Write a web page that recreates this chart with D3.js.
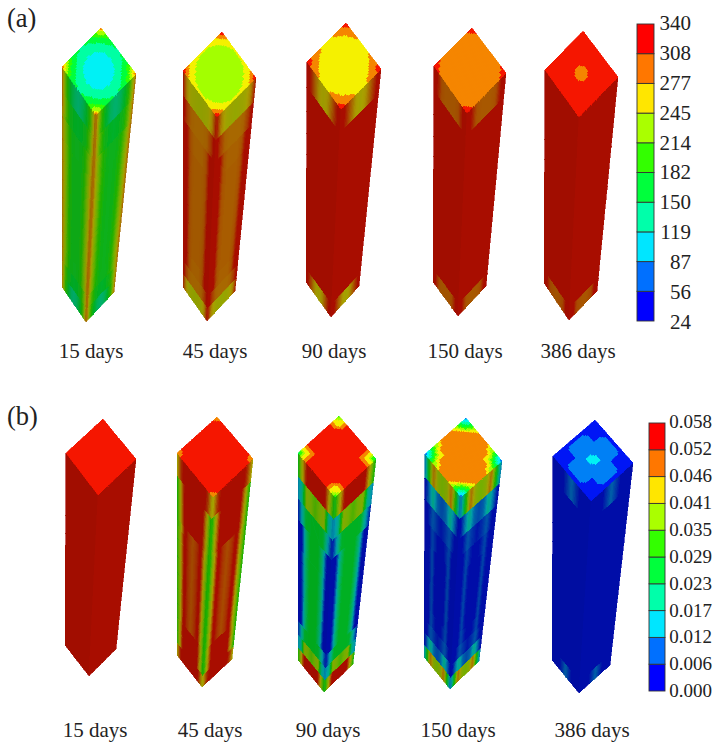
<!DOCTYPE html>
<html>
<head>
<meta charset="utf-8">
<style>
  body { margin: 0; background: #fff; }
  text { font-family: "Liberation Serif", serif; fill: #222; }
</style>
</head>
<body>
<script src="https://cdnjs.cloudflare.com/ajax/libs/d3/7.8.5/d3.min.js"></script>
<script>
var ticksA = [340, 308, 277, 245, 214, 182, 150, 119, 87, 56, 24];
var ticksB = ["0.058", "0.052", "0.046", "0.041", "0.035", "0.029", "0.023", "0.017", "0.012", "0.006", "0.000"];
var dayLabels = ["15 days", "45 days", "90 days", "150 days", "386 days"];
var bandColors = ["#0000ff", "#0070ff", "#00e6ff", "#00ffaa", "#00ff3c", "#33ff00", "#aaff00", "#ffe600", "#ff7700", "#ff0000"];

// top face: one quadrant, corner to centre. side face: rows end to middle, columns edge to face centre
var topA15 = [[305,225,175,155,150],[225,180,150,135,130],[175,150,125,115,110],[155,135,115,100,95],[150,130,110,95,90]];
var sideA15 = [[290,215,170,145,135],[290,222,185,170,165],[290,235,198,178,175],[290,240,200,180,176],[290,240,200,180,176],[290,240,200,180,176]];
var topA45 = [[335,285,258,250,250],[285,255,240,235,235],[258,240,230,225,225],[250,235,225,222,222],[250,235,225,222,222]];
var sideA45 = [[320,272,255,252,250],[335,305,288,285,285],[340,330,295,288,288],[340,330,295,290,290],[340,330,295,290,290],[340,330,295,290,290]];
var topA90 = [[335,305,292,276,258],[305,285,268,255,255],[292,268,255,255,255],[276,255,255,255,255],[258,255,255,255,255]];
var sideA90 = [[338,315,290,265,258],[340,340,340,340,340],[340,340,340,340,340],[340,340,340,340,340],[340,340,340,340,340],[340,340,340,340,340]];
var topA150 = [[330,312,298,292,290],[312,296,292,292,292],[298,292,292,292,292],[292,292,292,292,292],[290,292,292,292,292]];
var sideA150 = [[338,320,295,292,292],[340,340,340,340,340],[340,340,340,340,340],[340,340,340,340,340],[340,340,340,340,340],[340,340,340,340,340]];
var topA386 = [[330,330,330,330,330],[330,330,330,330,330],[330,330,330,330,325],[330,330,330,315,306],[330,330,325,306,290]];
var sideA386 = [[340,340,340,340,340],[340,340,340,340,340],[340,340,340,340,340],[340,340,340,340,340],[340,340,340,340,340],[340,340,340,340,340]];
var endA386 = [338,325,298,294,292];

var topB15 = [[.056,.056,.056,.056,.056],[.056,.056,.056,.056,.056],[.056,.056,.056,.056,.056],[.056,.056,.056,.056,.056],[.056,.056,.056,.056,.056]];
var sideB15 = [[.058,.058,.058,.058,.058],[.058,.058,.058,.058,.058],[.058,.058,.058,.058,.058],[.058,.058,.058,.058,.058],[.058,.058,.058,.058,.058],[.058,.058,.058,.058,.058]];
var topB45 = [[.046,.054,.056,.056,.056],[.054,.056,.056,.056,.056],[.056,.056,.056,.056,.056],[.056,.056,.056,.056,.056],[.056,.056,.056,.056,.056]];
var sideB45 = [[.042,.052,.057,.057,.057],[.030,.044,.057,.057,.057],[.030,.044,.057,.057,.057],[.030,.042,.056,.052,.050],[.030,.042,.056,.052,.050],[.030,.042,.056,.052,.050]];
var topB90 = [[.026,.044,.054,.056,.056],[.044,.044,.056,.056,.056],[.054,.056,.056,.056,.056],[.056,.056,.056,.056,.056],[.056,.056,.056,.056,.056]];
var sideB90 = [[.029,.042,.055,.057,.057],[.012,.018,.040,.038,.035],[.004,.015,.026,.027,.027],[.000,.004,.020,.027,.027],[.000,.004,.020,.027,.027],[.000,.004,.020,.027,.027]];
var topB150 = [[.006,.020,.036,.047,.048],[.020,.030,.047,.050,.050],[.036,.047,.048,.050,.050],[.047,.050,.050,.050,.050],[.048,.050,.050,.050,.050]];
var sideB150 = [[.010,.030,.048,.040,.038],[.001,.010,.018,.010,.008],[.000,.004,.009,.006,.004],[.000,.002,.008,.004,.002],[.000,.002,.008,.002,.001],[.000,.002,.008,.002,.001]];
var topB386 = [[.001,.002,.003,.004,.004],[.002,.004,.005,.008,.007],[.003,.005,.005,.008,.008],[.004,.008,.008,.010,.011],[.004,.007,.008,.011,.016]];
var sideB386 = [[.000,.000,.002,.006,.010],[.000,.000,.000,.000,.000],[.000,.000,.000,.000,.000],[.000,.000,.000,.000,.000],[.000,.000,.000,.000,.000],[.000,.000,.000,.000,.000]];

// screen corners of each column
var shapes = {
  a15: {T:[101,28], L:[62,67], R:[136,74], F:[96,115], BL:[62,287], BF:[86,322], BR:[114,292]},
  a45: {T:[222,32], L:[183,71], R:[256,78], F:[217,117], BL:[183,287], BF:[207,321], BR:[235,291]},
  a90: {T:[346,23], L:[307,62], R:[381,69], F:[341,109], BL:[306,282], BF:[331,317], BR:[359,286]},
  a150: {T:[472,28], L:[434,66], R:[506,73], F:[467,113], BL:[433,282], BF:[458,316], BR:[486,286]},
  a386: {T:[583,31], L:[545,70], R:[618,77], F:[579,117], BL:[544,283], BF:[569,320], BR:[597,291]},
  b15: {T:[103,419], L:[66,453], R:[136,459], F:[98,495], BL:[65,645], BF:[89,676], BR:[116,649]},
  b45: {T:[217,417], L:[177,453], R:[253,459], F:[213,497], BL:[177,655], BF:[202,687], BR:[232,659]},
  b90: {T:[339,416], L:[298,453], R:[376,459], F:[335,497], BL:[298,660], BF:[324,692], BR:[353,664]},
  b150: {T:[466,418], L:[425,454], R:[502,461], F:[461,497], BL:[424,657], BF:[450,689], BR:[479,661]},
  b386: {T:[595,420], L:[553,456], R:[633,463], F:[591,501], BL:[552,660], BF:[579,693], BR:[610,665]}
};

var columnsA = [
  {shape: shapes.a15, top: topA15, side: sideA15},
  {shape: shapes.a45, top: topA45, side: sideA45},
  {shape: shapes.a90, top: topA90, side: sideA90},
  {shape: shapes.a150, top: topA150, side: sideA150},
  {shape: shapes.a386, top: topA386, side: sideA386, end: endA386}
];
var columnsB = [
  {shape: shapes.b15, top: topB15, side: sideB15},
  {shape: shapes.b45, top: topB45, side: sideB45},
  {shape: shapes.b90, top: topB90, side: sideB90},
  {shape: shapes.b150, top: topB150, side: sideB150},
  {shape: shapes.b386, top: topB386, side: sideB386}
];

var svg = d3.select("body").append("svg")
  .attr("width", 715)
  .attr("height", 743);

var blur = svg.append("defs").append("filter")
  .attr("id", "soft")
  .attr("x", "-5%").attr("y", "-5%").attr("width", "110%").attr("height", "110%");
blur.append("feGaussianBlur").attr("stdDeviation", 0.7);

var lerp = function(p, q, t) { return [p[0] + (q[0] - p[0]) * t, p[1] + (q[1] - p[1]) * t]; };
var quad = function(a, b, c, d, u, v) { return lerp(lerp(a, b, u), lerp(d, c, u), v); };
// the camera sits above the column so cells near the top look longer
var depth = function(t) { return 1.44 * t / (1 + 0.44 * t); };

var shade = function(color, k, lift) {
  var c = d3.rgb(color);
  return d3.rgb(c.r * k, Math.min(255, c.g * k + lift), c.b * k).formatHex();
};

function drawColumn(g, col, bandScale, smoothScale) {
  var s = col.shape, polys = [];

  function addFace(a, b, c, d, k, lift) {
    d3.range(12).forEach(function(r) {
      var row = col.side[r < 6 ? r : 11 - r];
      if (r == 11 && col.end) row = col.end;
      var v0 = depth(r / 12), v1 = depth((r + 1) / 12);
      d3.range(32).forEach(function(i) {
        var pos = (i + 0.5) / 4, n = Math.floor(pos), f = pos - n;
        var val = d3.interpolateNumber(row[Math.min(n, 8 - n)], row[Math.min(n + 1, 7 - n)])(f);
        polys.push({
          pts: [quad(a, b, c, d, i / 32, v0), quad(a, b, c, d, (i + 1) / 32, v0),
                quad(a, b, c, d, (i + 1) / 32, v1), quad(a, b, c, d, i / 32, v1)],
          fill: shade(smoothScale(val), k, lift)
        });
      });
    });
  }

  addFace(s.L, s.F, s.BF, s.BL, 0.63, 8);
  addFace(s.R, s.F, s.BF, s.BR, 0.66, 8);

  var at = function(p, q) { return col.top[Math.min(p, 8 - p)][Math.min(q, 8 - q)]; };
  d3.range(32).forEach(function(i) {
    d3.range(32).forEach(function(j) {
      var px = (i + 0.5) / 4, qx = (j + 0.5) / 4;
      var p = Math.floor(px), q = Math.floor(qx), fp = px - p, fq = qx - q;
      // cells are split along the screen-horizontal diagonal, like the solver's triangles
      var val = fp + fq < 1
        ? at(p, q) + fp * (at(p + 1, q) - at(p, q)) + fq * (at(p, q + 1) - at(p, q))
        : at(p + 1, q + 1) + (1 - fp) * (at(p, q + 1) - at(p + 1, q + 1)) + (1 - fq) * (at(p + 1, q) - at(p + 1, q + 1));
      polys.push({
        pts: [quad(s.T, s.R, s.F, s.L, i / 32, j / 32), quad(s.T, s.R, s.F, s.L, (i + 1) / 32, j / 32),
              quad(s.T, s.R, s.F, s.L, (i + 1) / 32, (j + 1) / 32), quad(s.T, s.R, s.F, s.L, i / 32, (j + 1) / 32)],
        fill: shade(bandScale(val), 0.96, 20)
      });
    });
  });

  g.append("g").attr("filter", "url(#soft)")
    .selectAll("polygon").data(polys)
    .enter().append("polygon")
    .attr("points", function(d) { return d.pts.map(function(p) { return p[0].toFixed(2) + "," + p[1].toFixed(2); }).join(" "); })
    .attr("fill", function(d) { return d.fill; })
    .attr("stroke", function(d) { return d.fill; })
    .attr("stroke-width", 0.6)
    .attr("shape-rendering", "crispEdges");
}

function drawPanel(cfg) {
  var g = svg.append("g");
  var value = d3.scaleLinear().domain([0, 10]).range(cfg.domain);
  var edges = d3.range(1, 10).map(value);
  var centers = d3.range(10).map(function(i) { return value(i + 0.5); });
  var bandScale = d3.scaleThreshold().domain(edges).range(bandColors);
  var smoothScale = d3.scaleLinear().domain(centers).range(bandColors).clamp(true);

  cfg.columns.forEach(function(col) { drawColumn(g, col, bandScale, smoothScale); });

  // colour bar
  var bar = d3.scaleLinear().domain([0, 10]).range([cfg.barY[1], cfg.barY[0]]);
  g.selectAll("rect.band").data(bandColors)
    .enter().append("rect")
    .attr("class", "band")
    .attr("x", cfg.barX)
    .attr("y", function(d, i) { return bar(i + 1); })
    .attr("width", cfg.barW)
    .attr("height", function(d, i) { return bar(i) - bar(i + 1); })
    .attr("fill", function(d) { return d; })
    .attr("stroke", "#333")
    .attr("stroke-width", 0.9);

  var labelY = d3.scalePoint().domain(cfg.ticks).range(cfg.labelY);
  g.selectAll("text.tick").data(cfg.ticks)
    .enter().append("text")
    .attr("class", "tick")
    .attr("x", cfg.labelX)
    .attr("y", function(d) { return labelY(d); })
    .attr("dy", "0.33em")
    .attr("text-anchor", "end")
    .attr("font-size", cfg.tickSize)
    .text(function(d) { return d; });

  g.selectAll("text.day").data(dayLabels)
    .enter().append("text")
    .attr("class", "day")
    .attr("x", function(d, i) { return cfg.dayX[i]; })
    .attr("y", cfg.dayY)
    .attr("text-anchor", "middle")
    .attr("font-size", 21)
    .text(function(d) { return d; });

  g.append("text")
    .attr("x", 7)
    .attr("y", cfg.tagY)
    .attr("font-size", 26.5)
    .text(cfg.tag);
}

drawPanel({
  columns: columnsA, domain: [24, 340], ticks: ticksA, tag: "(a)", tagY: 27,
  barX: 637, barW: 17, barY: [24, 321], labelX: 691, labelY: [23, 322], tickSize: 21,
  dayX: [91, 215, 334, 465, 578], dayY: 358
});
drawPanel({
  columns: columnsB, domain: [0, 0.058], ticks: ticksB, tag: "(b)", tagY: 425,
  barX: 649, barW: 16, barY: [423, 691], labelX: 712, labelY: [422, 691], tickSize: 19,
  dayX: [95, 210, 328, 458, 592], dayY: 737
});
</script>
</body>
</html>
